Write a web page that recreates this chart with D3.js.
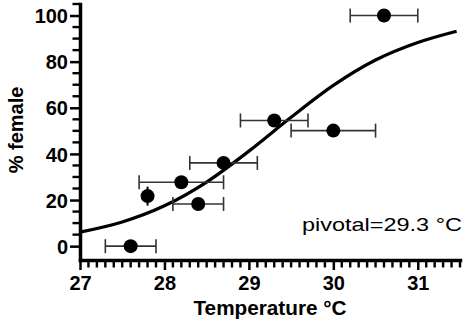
<!DOCTYPE html>
<html>
<head>
<meta charset="utf-8">
<script src="https://cdn.jsdelivr.net/npm/d3@7"></script>
<style>
  body { margin: 0; background: #fff; }
  svg { display: block; font-family: "Liberation Sans", Arial, sans-serif; }
</style>
</head>
<body>
<div id="chart"></div>
<script>
// observed points (temperature, % female) with horizontal error bounds
const temps = [27.6, 27.8, 28.2, 28.4, 28.7, 29.3, 30.0, 30.6];
const pctFemale = [0, 21.7, 27.7, 18.3, 36.1, 54.5, 50.1, 100];
const tempLow = [27.3, null, 27.7, 28.1, 28.3, 28.9, 29.5, 30.2];
const tempHigh = [27.9, null, 28.7, 28.7, 29.1, 29.7, 30.5, 31.0];
const pctErr = [0, 1.5, 0, 0, 0, 0, 0, 0];

// fitted curve
const curveT = [27, 27.5, 28, 28.5, 29, 29.5, 30, 30.5, 31, 31.46];
const curveP = [6.1, 10.5, 17.5, 27.8, 41.2, 55.9, 69.7, 80.7, 88.3, 93.2];

const xTicks = [27, 28, 29, 30, 31];
const yTicks = [0, 20, 40, 60, 80, 100];
const xMinorTicks = d3.range(271, 316).map(v => v / 10);
const yMinorTicks = d3.range(1, 22).map(v => v * 5);

const W = 474, H = 326;

const svg = d3.select('#chart').append('svg')
    .attr('width', W)
    .attr('height', H);

const x = d3.scaleLinear().domain([27, 31.5]).range([80, 460]);
const y = d3.scaleLinear().domain([-6, 105]).range([260, 4]);

// main axes
const xAxis = svg.append('g')
    .attr('transform', `translate(0,${y(-6)})`)
    .call(d3.axisBottom(x).tickValues(xTicks).tickSize(10).tickSizeOuter(0).tickPadding(6).tickFormat(d3.format('d')));

const yAxis = svg.append('g')
    .attr('transform', `translate(${x(27)},0)`)
    .call(d3.axisLeft(y).tickValues(yTicks).tickSize(10).tickSizeOuter(0).tickPadding(2));

[xAxis, yAxis].forEach(g => {
    g.select('.domain').attr('stroke', '#000').attr('stroke-width', 3.5).attr('stroke-linecap', 'square');
    g.selectAll('line').attr('stroke', '#000').attr('stroke-width', 2.5);
    g.selectAll('text')
        .attr('fill', '#000')
        .style('font-family', '"Liberation Sans", Arial, sans-serif')
        .style('font-weight', 'bold')
        .style('font-size', '20px');
});
yAxis.selectAll('text').attr('dy', '0.36em');

// minor ticks, appended into the axis groups after the major ones
xAxis.selectAll('rect.minor')
    .data(xMinorTicks.filter(v => !xTicks.includes(v)))
    .enter()
    .append('rect')
    .attr('class', 'minor')
    .attr('x', d => x(d) - 1.2)
    .attr('y', 0)
    .attr('width', 2.4)
    .attr('height', 7.5)
    .attr('fill', '#000');

yAxis.selectAll('rect.minor')
    .data(yMinorTicks.filter(v => !yTicks.includes(v)))
    .enter()
    .append('rect')
    .attr('class', 'minor')
    .attr('y', d => y(d) - 1.2)
    .attr('x', -7.5)
    .attr('height', 2.4)
    .attr('width', 7.5)
    .attr('fill', '#000');

// fitted curve
const line = d3.line()
    .x((d, i) => x(curveT[i]))
    .y(d => y(d))
    .curve(d3.curveMonotoneX);

svg.append('path')
    .datum(curveP)
    .attr('d', line)
    .attr('fill', 'none')
    .attr('stroke', '#000')
    .attr('stroke-width', 3.2);

// error bars
const pts = temps.map((t, i) => ({ t, p: pctFemale[i], lo: tempLow[i], hi: tempHigh[i], e: pctErr[i] }));
const bars = svg.append('g').attr('stroke', '#333').attr('stroke-width', 1.6).attr('fill', 'none');
pts.filter(d => d.lo !== null).forEach(d => {
    bars.append('line').attr('x1', x(d.lo)).attr('x2', x(d.hi)).attr('y1', y(d.p)).attr('y2', y(d.p));
    [d.lo, d.hi].forEach(v => {
        bars.append('line').attr('x1', x(v)).attr('x2', x(v)).attr('y1', y(d.p) - 7).attr('y2', y(d.p) + 7);
    });
});
pts.filter(d => d.e > 0).forEach(d => {
    bars.append('line').attr('x1', x(d.t)).attr('x2', x(d.t)).attr('y1', y(d.p + d.e) - 6).attr('y2', y(d.p - d.e) + 6)
        .attr('stroke', '#000').attr('stroke-width', 2);
});

svg.append('g').selectAll('circle')
    .data(pts)
    .enter()
    .append('circle')
    .attr('cx', d => x(d.t))
    .attr('cy', d => y(d.p))
    .attr('r', 7)
    .attr('fill', '#000');

// labels
svg.append('text')
    .attr('x', 270)
    .attr('y', 315)
    .attr('text-anchor', 'middle')
    .attr('textLength', 153)
    .attr('lengthAdjust', 'spacingAndGlyphs')
    .style('font-weight', 'bold')
    .style('font-size', '20px')
    .text('Temperature °C');

svg.append('text')
    .attr('transform', 'translate(23,130) rotate(-90)')
    .attr('text-anchor', 'middle')
    .style('font-weight', 'bold')
    .style('font-size', '20px')
    .text('% female');

svg.append('text')
    .attr('x', 302)
    .attr('y', 231)
    .attr('textLength', 160)
    .attr('lengthAdjust', 'spacingAndGlyphs')
    .style('font-size', '19px')
    .text('pivotal=29.3 °C');
</script>
</body>
</html>
